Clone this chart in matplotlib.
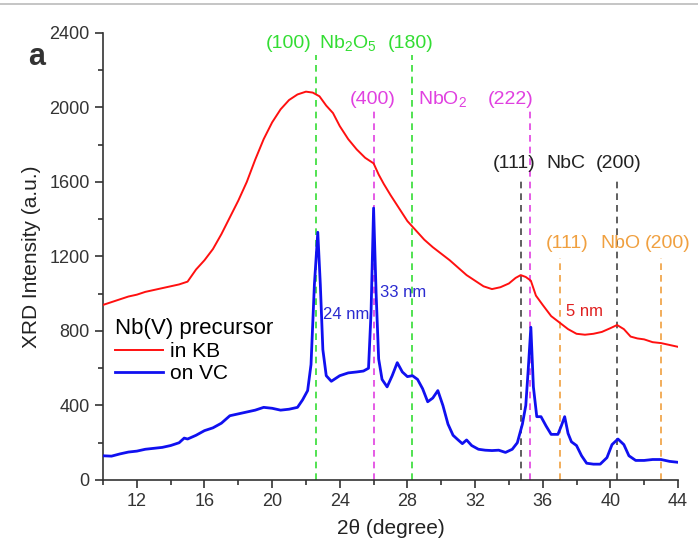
import matplotlib
matplotlib.use("Agg")
import matplotlib.pyplot as plt
from matplotlib.ticker import MultipleLocator
from matplotlib.lines import Line2D

plt.rcParams['font.family'] = ['Liberation Sans', 'DejaVu Sans']
plt.rcParams['mathtext.default'] = 'regular'

# Nb(V) precursor in KB (red trace)
kb_2theta = [10.0, 10.5, 11.0, 11.5, 12.0, 12.5, 13.0, 13.5, 14.0, 14.5, 15.0, 15.5,
             16.0, 16.5, 17.0, 17.5, 18.0, 18.5, 19.0, 19.5, 20.0, 20.5, 21.0, 21.5,
             22.0, 22.4, 22.8, 23.2, 23.6, 24.0, 24.5, 25.0, 25.5, 26.0, 26.3, 26.6,
             27.0, 27.5, 28.0, 28.5, 29.0, 29.5, 30.0, 30.5, 31.0, 31.5, 32.0, 32.5,
             33.0, 33.5, 34.0, 34.4, 34.7, 35.0, 35.3, 35.6, 36.0, 36.5, 37.0, 37.5,
             38.0, 38.5, 39.0, 39.5, 40.0, 40.4, 40.8, 41.2, 41.6, 42.0, 42.5, 43.0,
             43.5, 44.0]
kb_intensity = [940, 955, 970, 985, 995, 1010, 1020, 1030, 1040, 1050, 1065, 1130,
                1180, 1240, 1320, 1410, 1500, 1600, 1720, 1830, 1920, 1990, 2040, 2070,
                2085, 2080, 2060, 2010, 1970, 1900, 1830, 1775, 1730, 1700, 1640, 1590,
                1530, 1460, 1390, 1340, 1290, 1250, 1215, 1180, 1140, 1100, 1070, 1040,
                1025, 1035, 1055, 1085, 1100, 1090, 1070, 990, 940, 880, 845, 810,
                785, 780, 785, 795, 815, 832, 810, 770, 760, 755, 740, 735,
                725, 715]

# Nb(V) precursor on VC (blue trace)
vc_2theta = [10.0, 10.5, 11.0, 11.5, 12.0, 12.5, 13.0, 13.5, 14.0, 14.5, 14.8, 15.0,
             15.5, 16.0, 16.5, 17.0, 17.5, 18.0, 18.5, 19.0, 19.5, 20.0, 20.5, 21.0,
             21.5, 21.8, 22.1, 22.3, 22.5, 22.7, 22.85, 23.0, 23.2, 23.5, 24.0, 24.5,
             25.0, 25.4, 25.7, 25.85, 26.0, 26.15, 26.3, 26.5, 26.8, 27.1, 27.4, 27.7,
             28.0, 28.3, 28.6, 28.9, 29.2, 29.5, 29.8, 30.1, 30.4, 30.7, 31.0, 31.25,
             31.5, 31.8, 32.2, 32.6, 33.0, 33.4, 33.8, 34.2, 34.5, 34.8, 35.0, 35.15,
             35.3, 35.45, 35.65, 35.9, 36.2, 36.5, 36.9, 37.1, 37.3, 37.5, 37.7, 38.0,
             38.3, 38.6, 39.0, 39.4, 39.8, 40.1, 40.45, 40.8, 41.1, 41.5, 42.0, 42.5,
             43.0, 43.5, 44.0]
vc_intensity = [130, 128, 140, 150, 155, 165, 170, 175, 185, 200, 225, 220,
                240, 265, 280, 305, 345, 355, 365, 375, 390, 385, 375, 380,
                390, 430, 480, 620, 1050, 1330, 1050, 700, 560, 530, 560, 575,
                580, 585, 600, 900, 1460, 1000, 650, 540, 500, 560, 630, 580,
                555, 560, 540, 490, 420, 440, 480, 400, 300, 240, 215, 195,
                215, 185, 165, 160, 158, 160, 148, 165, 200, 300, 400, 600,
                820, 500, 340, 340, 290, 245, 245, 290, 340, 250, 205, 185,
                130, 90, 85, 85, 120, 190, 220, 190, 130, 105, 105, 110,
                110, 100, 95]

# Reference reflections: position, top of marker, colour
ref_pos = [22.6, 28.3, 26.0, 35.25, 34.7, 40.4, 37.0, 43.0]
ref_top = [2280, 2280, 2000, 2000, 1610, 1610, 1190, 1190]
ref_col = ['#33dd33', '#33dd33', '#e040e0', '#e040e0', '#444444', '#444444', '#f0a040', '#f0a040']

# Phase labels: x, y, text, colour
lab_x = [21.0, 24.5, 28.2, 25.95, 30.1, 34.1, 34.3, 37.4, 40.5, 37.45, 40.6, 43.4]
lab_y = [2345, 2345, 2345, 2045, 2045, 2045, 1700, 1700, 1700, 1270, 1270, 1270]
lab_txt = ['(100)', 'Nb$_2$O$_5$', '(180)', '(400)', 'NbO$_2$', '(222)',
           '(111)', 'NbC', '(200)', '(111)', 'NbO', '(200)']
lab_col = ['#33dd33'] * 3 + ['#e040e0'] * 3 + ['#222222'] * 3 + ['#f0a040'] * 3

fig = plt.figure(figsize=(6.98, 5.47), dpi=100)
ax = fig.add_axes([0.1476, 0.1225, 0.8237, 0.8172])

for xp, yt, c in zip(ref_pos, ref_top, ref_col):
    ax.plot([xp, xp], [0, yt], ls=(0, (4, 3)), color=c, lw=1.2, zorder=1)

ax.plot(kb_2theta, kb_intensity, color='#ff1010', lw=1.4, zorder=3, label='in KB')
ax.plot(vc_2theta, vc_intensity, color='#1010f0', lw=2.0, zorder=3, label='on VC')

for x, y, t, c in zip(lab_x, lab_y, lab_txt, lab_col):
    ax.text(x, y, t, color=c, fontsize=14, ha='center', va='center')

ax.text(23.0, 886, '24 nm', color='#2a2ad0', fontsize=12, ha='left', va='center')
ax.text(26.4, 1009, '33 nm', color='#2a2ad0', fontsize=12, ha='left', va='center')
ax.text(38.5, 902, '5 nm', color='#e02020', fontsize=12, ha='center', va='center')

ax.set_xlim(10, 44)
ax.set_ylim(0, 2400)
ax.xaxis.set_minor_locator(MultipleLocator(2))
ax.yaxis.set_major_locator(MultipleLocator(400))
ax.yaxis.set_minor_locator(MultipleLocator(200))
ax.set_xticks([12, 16, 20, 24, 28, 32, 36, 40, 44])
ax.tick_params(which='major', direction='out', length=6, width=1.2, labelsize=13, colors='#333333')
ax.tick_params(which='minor', direction='out', length=3.5, width=1.2, colors='#333333')
for s in ['top', 'right']:
    ax.spines[s].set_visible(False)
for s in ['left', 'bottom']:
    ax.spines[s].set_linewidth(1.2)
    ax.spines[s].set_color('#333333')

ax.set_xlabel('2θ (degree)', fontsize=15, color='#222222', labelpad=6)
ax.set_ylabel('XRD Intensity (a.u.)', fontsize=15, color='#222222', labelpad=6)

leg = ax.legend(title='Nb(V) precursor', loc='upper left', bbox_to_anchor=(-0.005, 0.395),
                frameon=False, fontsize=15, title_fontsize=16, handlelength=2.3,
                handletextpad=0.35, labelspacing=0.15, borderaxespad=0.3)
leg._legend_box.align = 'left'

fig.text(37 / 698, 1 - 57 / 547, 'a', fontsize=22, fontweight='bold', color='#333333',
         ha='center', va='center')
fig.add_artist(Line2D([0, 1], [1 - 4 / 547, 1 - 4 / 547], color='#bbbbbb', lw=1.2,
                      transform=fig.transFigure))

fig.savefig('out.png', dpi=100)
